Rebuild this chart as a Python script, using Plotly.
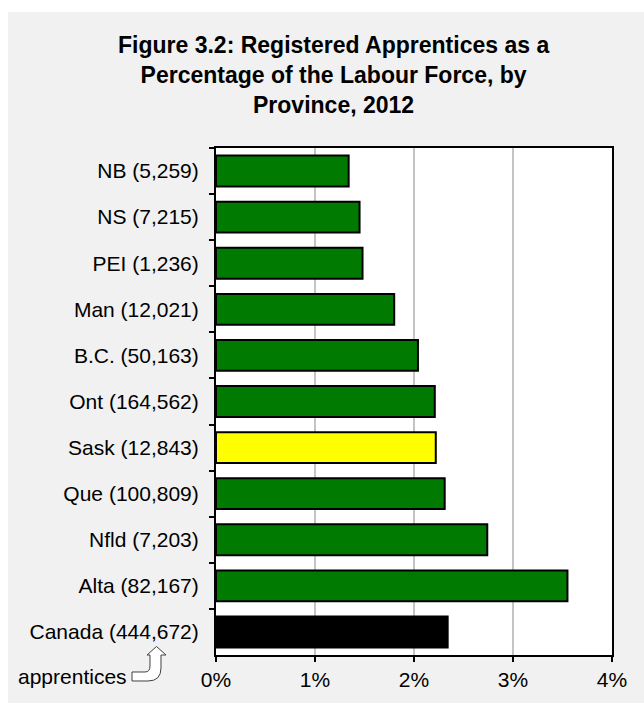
import plotly.graph_objects as go

# Provinces (top to bottom) with registered apprentice counts
provinces = ["NB", "NS", "PEI", "Man", "B.C.", "Ont", "Sask", "Que", "Nfld", "Alta", "Canada"]
apprentices = ["5,259", "7,215", "1,236", "12,021", "50,163", "164,562",
               "12,843", "100,809", "7,203", "82,167", "444,672"]
# Registered apprentices as % of the labour force, 2012
share_pct = [1.34, 1.45, 1.48, 1.80, 2.04, 2.21, 2.22, 2.31, 2.74, 3.55, 2.34]
x_ticks = [0, 1, 2, 3, 4]
x_tick_text = [f"{v}%" for v in x_ticks]

labels = [f"{p} ({a})" for p, a in zip(provinces, apprentices)]
colors = ["#FFFF00" if p == "Sask" else "#000000" if p == "Canada" else "#007A00"
          for p in provinces]

W, H = 644, 703
L, R, T, B = 216, 32, 148, 48
FONT = "Liberation Sans, Arial, sans-serif"


def px(x):
    return (x - L) / (W - L - R)


def py(y):
    return (H - B - y) / (H - T - B)


fig = go.Figure(go.Bar(
    x=share_pct, y=labels, orientation="h", width=0.67,
    marker=dict(color=colors, line=dict(color="#000000", width=2)),
))

# Bent outline arrow pointing from "apprentices" up to the Canada count
arrow_pts = [(132, 672), (145, 672), ("Q", 150, 672, 150, 666), (150, 655), (147, 655),
             (156.5, 646.5), (166, 655), (161, 655), (161, 668),
             ("Q", 161, 681, 148, 681), (132, 681)]
path = ""
for i, p in enumerate(arrow_pts):
    if p[0] == "Q":
        path += f" Q{px(p[1]):.5f},{py(p[2]):.5f} {px(p[3]):.5f},{py(p[4]):.5f}"
    else:
        path += (" M" if i == 0 else " L") + f"{px(p[0]):.5f},{py(p[1]):.5f}"
path += " Z"

fig.update_layout(
    width=W, height=H,
    margin=dict(l=L, r=R, t=T, b=B),
    paper_bgcolor="#F1F1F1",
    plot_bgcolor="#FFFFFF",
    showlegend=False,
    bargap=0.33,
    font=dict(family=FONT, size=21, color="#000000"),
    xaxis=dict(
        range=[0, 4], tickvals=x_ticks, ticktext=x_tick_text,
        showgrid=True, gridcolor="#C4C4C4", gridwidth=2,
        zeroline=False, showline=True, linecolor="#000000", linewidth=2, mirror=True,
        ticks="outside", ticklen=5, tickwidth=2, tickcolor="#000000",
        tickfont=dict(size=21), fixedrange=True,
    ),
    yaxis=dict(
        autorange="reversed", showgrid=False, zeroline=False,
        showline=True, linecolor="#000000", linewidth=2, mirror=True,
        ticks="outside", tickson="boundaries", ticklen=5, tickwidth=2, tickcolor="#000000",
        ticklabelstandoff=11, tickfont=dict(size=21), fixedrange=True,
    ),
    shapes=[
        dict(type="rect", xref="paper", yref="paper", x0=px(0), x1=px(W), y0=py(0), y1=py(12),
             fillcolor="#FFFFFF", line=dict(width=0)),
        dict(type="rect", xref="paper", yref="paper", x0=px(0), x1=px(8), y0=py(0), y1=py(H),
             fillcolor="#FFFFFF", line=dict(width=0)),
        dict(type="path", xref="paper", yref="paper", path=path,
             fillcolor="#FFFFFF", line=dict(color="#404040", width=1)),
    ],
    annotations=[
        dict(xref="paper", yref="paper", x=px(333), y=py(75), xanchor="center", yanchor="middle",
             text="<b>Figure 3.2: Registered Apprentices as a<br>Percentage of the Labour Force, by<br>Province, 2012</b>",
             showarrow=False, align="center", font=dict(size=23, family=FONT)),
        dict(xref="paper", yref="paper", x=px(16), y=py(676), xanchor="left", yanchor="middle",
             text="apprentices", showarrow=False, font=dict(size=21, family=FONT)),
    ],
)

fig.write_html("out.html")
